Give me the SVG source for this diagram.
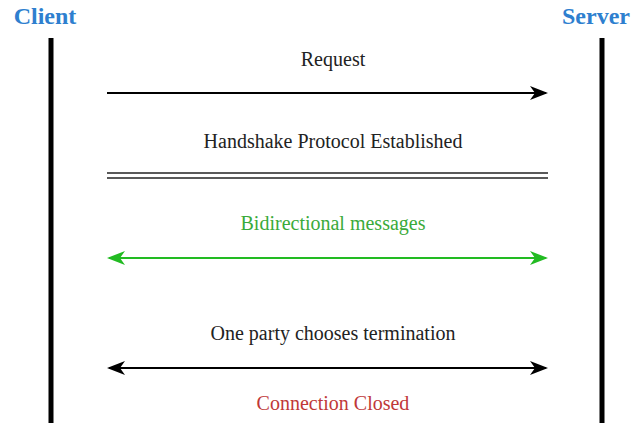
<svg xmlns="http://www.w3.org/2000/svg" width="631" height="423" viewBox="0 0 631 423">
<style>
.t{font-family:'Liberation Serif','Times New Roman','DejaVu Serif',serif;font-size:20px;text-anchor:middle;fill:#222}
.h{font-family:'Liberation Serif','Times New Roman','DejaVu Serif',serif;font-size:24px;font-weight:bold;text-anchor:middle;fill:#2e7fcf}
.life{stroke:#000;stroke-width:5}
</style>
<defs>
<marker id="ak" markerWidth="18" markerHeight="14" refX="16" refY="7" orient="auto-start-reverse" markerUnits="userSpaceOnUse"><path d="M0,0 L18,7 L0,14 L5,7 Z" fill="#000"/></marker>
<marker id="ag" markerWidth="18" markerHeight="14" refX="16" refY="7" orient="auto-start-reverse" markerUnits="userSpaceOnUse"><path d="M0,0 L18,7 L0,14 L5,7 Z" fill="#22bb22"/></marker>
</defs>
<rect width="631" height="423" fill="#fff"/>
<g id="client"><text class="h" x="45" y="24">Client</text><line class="life" x1="51" y1="38" x2="51" y2="423"/></g>
<g id="server"><text class="h" x="596" y="24">Server</text><line class="life" x1="602" y1="38" x2="602" y2="423"/></g>
<g id="connectors">
<line x1="107" y1="93" x2="546" y2="93" stroke="#000" stroke-width="2" marker-end="url(#ak)"/>
<line x1="107" y1="173" x2="548" y2="173" stroke="#222" stroke-width="1.3"/>
<line x1="107" y1="178" x2="548" y2="178" stroke="#222" stroke-width="1.3"/>
<line x1="109" y1="258" x2="546" y2="258" stroke="#22bb22" stroke-width="2" marker-start="url(#ag)" marker-end="url(#ag)"/>
<line x1="109" y1="368" x2="546" y2="368" stroke="#000" stroke-width="2" marker-start="url(#ak)" marker-end="url(#ak)"/>
</g>
<g id="labels">
<text class="t" x="333" y="66">Request</text>
<text class="t" x="333" y="148">Handshake Protocol Established</text>
<text class="t" x="333" y="230" style="fill:#3aaa3a">Bidirectional messages</text>
<text class="t" x="333" y="340">One party chooses termination</text>
<text class="t" x="333" y="410" style="fill:#c03838">Connection Closed</text>
</g>
</svg>
